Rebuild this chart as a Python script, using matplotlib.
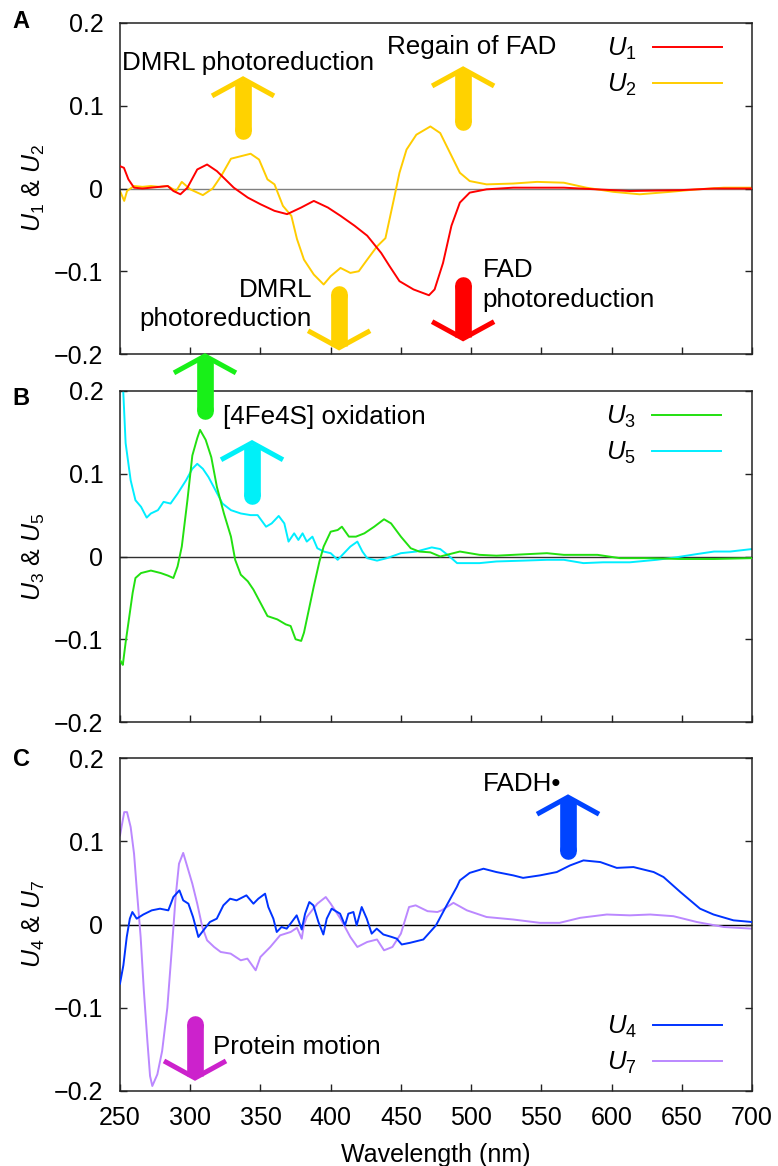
import matplotlib
matplotlib.use('Agg')
import matplotlib.pyplot as plt

plt.rcParams['font.family'] = ['Liberation Sans', 'DejaVu Sans']
plt.rcParams['mathtext.fontset'] = 'custom'
plt.rcParams['mathtext.rm'] = 'Liberation Sans'
plt.rcParams['mathtext.it'] = 'Liberation Sans:italic'
plt.rcParams['mathtext.bf'] = 'Liberation Sans:bold'

# ---------------- data ----------------
x_ticks = [250, 300, 350, 400, 450, 500, 550, 600, 650, 700]
y_ticks = [-0.2, -0.1, 0, 0.1, 0.2]
y_tick_labels = ['\u22120.2', '\u22120.1', '0', '0.1', '0.2']

wl_u1 = [250, 252.8, 256, 260, 266, 272, 278, 284, 288, 293, 298, 305, 312, 319, 325, 331, 341, 350,
         360, 369, 379, 388, 398, 407, 417, 426, 436, 442, 449, 459, 470, 474, 480, 486, 492, 499,
         511, 530, 566, 589, 613, 649, 673, 700]
u1 = [0.027, 0.025, 0.011, 0.001, 0.000, 0.001, 0.002, 0.003, -0.003, -0.007, 0.001, 0.023, 0.029,
      0.021, 0.011, 0.001, -0.011, -0.019, -0.027, -0.031, -0.023, -0.015, -0.023, -0.033, -0.045,
      -0.057, -0.078, -0.094, -0.112, -0.122, -0.129, -0.122, -0.090, -0.045, -0.017, -0.005,
      -0.001, 0.001, 0.001, -0.001, -0.003, -0.002, 0.000, 0.000]

wl_u2 = [250, 253, 255, 260, 266, 272, 278, 284, 290, 294, 300, 309, 316, 322, 329, 336, 343, 349,
         355, 360, 366, 372, 376, 381, 388, 395, 400, 407, 414, 420, 426, 433, 439, 445, 449, 454,
         461, 471, 478, 485, 492, 499, 511, 530, 547, 566, 582, 601, 620, 642, 661, 680, 700]
u2 = [-0.003, -0.015, -0.003, 0.003, 0.002, 0.003, 0.002, 0.003, -0.003, 0.008, -0.001, -0.008,
      0.000, 0.015, 0.036, 0.039, 0.042, 0.035, 0.011, 0.005, -0.021, -0.033, -0.061, -0.086,
      -0.104, -0.116, -0.106, -0.096, -0.102, -0.100, -0.086, -0.070, -0.060, -0.013, 0.019,
      0.047, 0.065, 0.075, 0.067, 0.043, 0.019, 0.009, 0.005, 0.006, 0.008, 0.007, 0.001,
      -0.004, -0.007, -0.004, -0.001, 0.001, 0.001]

wl_u3 = [250, 251, 252, 254, 256, 259, 261, 265, 272, 279, 284, 288, 291, 294, 298, 301.5, 305, 307,
         311, 315, 319, 324, 329, 332, 336, 341, 345, 350, 355, 362, 368, 371.5, 375, 379, 381,
         385, 388, 392, 395, 400, 405, 408, 413, 418, 424, 431, 438, 443, 450, 457, 463, 471, 478,
         485, 492, 506, 518, 530, 542, 554, 566, 590, 606, 625, 649, 673, 700]
u3 = [-0.125, -0.128, -0.131, -0.104, -0.080, -0.044, -0.026, -0.020, -0.017, -0.020, -0.023,
      -0.026, -0.012, 0.012, 0.068, 0.122, 0.143, 0.153, 0.141, 0.120, 0.084, 0.052, 0.024,
      -0.004, -0.022, -0.030, -0.040, -0.056, -0.072, -0.076, -0.082, -0.084, -0.100, -0.102,
      -0.092, -0.060, -0.036, -0.006, 0.012, 0.030, 0.032, 0.036, 0.024, 0.024, 0.028, 0.036,
      0.045, 0.040, 0.024, 0.010, 0.006, 0.005, 0.000, 0.003, 0.006, 0.002, 0.001, 0.002, 0.003,
      0.004, 0.002, 0.002, -0.002, -0.002, -0.003, -0.003, -0.002]

wl_u5 = [250, 252.3, 254, 257.6, 261, 265, 269, 272, 277, 281, 286, 291, 297, 301.5, 305, 309, 313,
         318, 323, 329, 336, 343, 348, 354, 358, 363, 367, 370, 374, 377, 380, 383, 387, 390.5,
         395, 400, 405, 409.5, 414, 419, 422.6, 426, 433, 440, 450, 461, 472, 478, 484, 490, 506,
         518, 537, 554, 566, 580, 594, 613, 632, 646, 661, 673, 684.5, 700]
u5 = [0.25, 0.2, 0.137, 0.092, 0.068, 0.060, 0.047, 0.052, 0.056, 0.066, 0.064, 0.076, 0.092,
      0.106, 0.112, 0.106, 0.096, 0.080, 0.064, 0.056, 0.052, 0.050, 0.050, 0.036, 0.040, 0.049,
      0.040, 0.018, 0.028, 0.020, 0.028, 0.018, 0.024, 0.010, 0.006, 0.004, -0.004, 0.004, 0.012,
      0.018, 0.006, -0.002, -0.005, -0.002, 0.004, 0.006, 0.011, 0.009, 0.001, -0.008, -0.008,
      -0.006, -0.005, -0.004, -0.004, -0.008, -0.007, -0.007, -0.004, -0.001, 0.003, 0.006,
      0.006, 0.009]

wl_u4 = [250, 252.4, 254.8, 257, 258.8, 261.9, 266.6, 272.6, 278.5, 284.4, 288, 292.3, 295, 298.7,
         302, 305.8, 309.4, 314, 318.9, 323.6, 328.4, 333, 340, 345, 348.5, 353.3, 355.6, 359.2,
         361.6, 365, 368.7, 372.3, 375.8, 379.4, 381.8, 384.8, 387.7, 391.3, 394.8, 397.2, 400.7,
         406.7, 410.2, 412.6, 416.2, 418.5, 422.1, 425.7, 429.2, 432.8, 437.5, 443.5, 447, 450.6,
         456.5, 466, 475, 482.6, 489.8, 492, 499, 508.8, 518, 530, 537, 549, 561, 570.5, 580, 592,
         603.7, 615.6, 630, 637, 649, 663, 672.6, 686.8, 700]
u4 = [-0.071, -0.049, -0.015, 0.007, 0.015, 0.007, 0.012, 0.017, 0.019, 0.017, 0.033, 0.041,
      0.029, 0.025, 0.009, -0.015, -0.007, 0.003, 0.007, 0.023, 0.031, 0.029, 0.035, 0.025,
      0.031, 0.037, 0.021, 0.007, -0.009, -0.003, -0.005, 0.003, 0.011, -0.006, 0.013, 0.027,
      0.023, 0.003, -0.012, 0.007, 0.019, 0.013, -0.001, 0.013, 0.015, -0.001, 0.021, 0.007,
      -0.011, -0.005, -0.012, -0.015, -0.017, -0.024, -0.022, -0.018, -0.001, 0.023, 0.045,
      0.053, 0.062, 0.067, 0.063, 0.059, 0.056, 0.059, 0.063, 0.071, 0.077, 0.075, 0.068, 0.069,
      0.063, 0.057, 0.039, 0.019, 0.012, 0.005, 0.003]

wl_u7 = [250, 253, 255, 257.6, 260, 262, 264.7, 267, 269.5, 271.4, 273, 276.6, 280, 283.7, 287,
         289.6, 292, 295, 298, 301.5, 305, 308.6, 312, 317, 321.7, 328.8, 336, 340.7, 346.6, 350,
         357, 364, 371.5, 376, 379.4, 381, 383, 390.5, 396.5, 400, 407, 414, 419, 426, 433, 438,
         444, 450, 455.8, 460.5, 469, 476, 479, 487.4, 497, 511, 530, 549, 563, 577.6, 596.6, 613,
         627.5, 644, 660.7, 680, 700]
u7 = [0.107, 0.135, 0.135, 0.117, 0.085, 0.041, -0.015, -0.080, -0.140, -0.182, -0.194, -0.180,
      -0.152, -0.100, -0.027, 0.033, 0.073, 0.086, 0.069, 0.049, 0.025, -0.003, -0.019, -0.027,
      -0.033, -0.035, -0.043, -0.041, -0.055, -0.039, -0.027, -0.013, -0.009, -0.004, -0.017,
      0.000, 0.009, 0.025, 0.033, 0.025, 0.007, -0.015, -0.027, -0.021, -0.018, -0.031, -0.027,
      -0.011, 0.021, 0.023, 0.016, 0.015, 0.017, 0.026, 0.017, 0.009, 0.006, 0.002, 0.002, 0.008,
      0.012, 0.011, 0.012, 0.010, 0.003, -0.003, -0.005]

# ---------------- figure ----------------
W, H = 778, 1166
fig = plt.figure(figsize=(W / 100, H / 100), dpi=100)

L, R = 120, 752
panels = [(23, 354), (391, 722), (758, 1091)]
axes = []
for top, bot in panels:
    ax = fig.add_axes([L / W, 1 - bot / H, (R - L) / W, (bot - top) / H])
    axes.append(ax)

FS = 18        # tick / axis label font size
AFS = 18.7     # annotation font size
PXX = 450 / (R - L)   # nm per pixel
PXY = 0.1 / 83        # value per pixel


def style(ax, zero_color, show_x):
    ax.set_xlim(250, 700)
    ax.set_ylim(-0.2, 0.2)
    ax.set_xticks(x_ticks)
    ax.set_yticks(y_ticks)
    ax.set_yticklabels(y_tick_labels)
    ax.tick_params(direction='in', length=5, width=1.0, left=True, right=True, top=False,
                   bottom=True, labelsize=FS, pad=12, colors='#222222', labelcolor='black')
    ax.tick_params(axis='x', pad=11)
    if not show_x:
        ax.tick_params(axis='x', labelbottom=False)
    for s in ax.spines.values():
        s.set_linewidth(1.1)
        s.set_color('#222222')
    ax.axhline(0, color=zero_color, lw=1.0, zorder=1)


def arrow(ax, x, tip, tail, color, up=True):
    s = 1 if up else -1
    v = tip - s * 3 * PXY
    ax.plot([x, x], [tail, tip - s * 5 * PXY], color=color, lw=12, solid_capstyle='butt',
            clip_on=False, zorder=6)
    ax.plot([x, x], [tail, tail + s * 1 * PXY], color=color, lw=12, solid_capstyle='round',
            clip_on=False, zorder=6)
    ax.plot([x - 31 * PXX, x, x + 31 * PXX], [v - s * 17 * PXY, v, v - s * 17 * PXY],
            color=color, lw=3.6, solid_joinstyle='miter', solid_capstyle='butt',
            clip_on=False, zorder=6)


def legend(ax, loc, anchor):
    ax.legend(loc=loc, bbox_to_anchor=anchor, frameon=False, markerfirst=False,
              fontsize=18.5, handlelength=2.7, handletextpad=0.62, labelspacing=0.38,
              borderpad=0, borderaxespad=0)


# Panel A
axA = axes[0]
style(axA, '#808080', False)
axA.plot(wl_u1, u1, color='#FF0000', lw=1.4, label='$U_1$', zorder=3)
axA.plot(wl_u2, u2, color='#FFCC00', lw=1.4, label='$U_2$', zorder=2)
legend(axA, 'center right', (0.9525, 0.866))
axA.set_ylabel('$U_1$ & $U_2$', fontsize=FS)
axA.text(251.4, 0.1434, 'DMRL photoreduction', fontsize=AFS, ha='left', va='baseline')
axA.text(440.2, 0.1627, 'Regain of FAD', fontsize=AFS, ha='left', va='baseline')
axA.text(386.8, -0.1313, 'DMRL', fontsize=AFS, ha='right', va='baseline')
axA.text(386.8, -0.1663, 'photoreduction', fontsize=AFS, ha='right', va='baseline')
axA.text(508.3, -0.1072, 'FAD', fontsize=AFS, ha='left', va='baseline')
axA.text(508.3, -0.1434, 'photoreduction', fontsize=AFS, ha='left', va='baseline')
arrow(axA, 337.6, 0.136, 0.069, '#FFD200', up=True)
arrow(axA, 494.3, 0.148, 0.080, '#FFD200', up=True)
arrow(axA, 406.0, -0.196, -0.128, '#FFD200', up=False)
arrow(axA, 494.3, -0.185, -0.117, '#FF0000', up=False)

# Panel B
axB = axes[1]
style(axB, '#303030', False)
axB.plot(wl_u3, u3, color='#22E010', lw=1.4, label='$U_3$', zorder=3)
axB.plot(wl_u5, u5, color='#00EEFF', lw=1.4, label='$U_5$', zorder=2)
legend(axB, 'center right', (0.951, 0.867))
axB.set_ylabel('$U_3$ & $U_5$', fontsize=FS)
axB.text(323.4, 0.160, '[4Fe4S] oxidation', fontsize=AFS, ha='left', va='baseline')
arrow(axB, 310.5, 0.246, 0.176, '#18F018', up=True)
arrow(axB, 344.0, 0.141, 0.073, '#00F0F8', up=True)

# Panel C
axC = axes[2]
style(axC, 'black', True)
axC.plot(wl_u4, u4, color='#0033FF', lw=1.4, label='$U_4$', zorder=3)
axC.plot(wl_u7, u7, color='#BB88FF', lw=1.4, label='$U_7$', zorder=2)
legend(axC, 'center right', (0.9525, 0.138))
axC.set_ylabel('$U_4$ & $U_7$', fontsize=FS)
axC.set_xlabel('Wavelength (nm)', fontsize=FS)
axC.xaxis.set_label_coords(0.5, -0.155)
axC.text(316.2, -0.1554, 'Protein motion', fontsize=AFS, ha='left', va='baseline')
axC.text(508.5, 0.160, 'FADH\u2022', fontsize=AFS, ha='left', va='baseline')
arrow(axC, 303.4, -0.188, -0.119, '#CC22CC', up=False)
arrow(axC, 569.0, 0.1566, 0.0886, '#0044FF', up=True)

for ax in axes:
    ax.yaxis.set_label_coords(-0.1155, 0.5)

for lab, yc in [('A', 22), ('B', 398), ('C', 760)]:
    fig.text(21 / W, 1 - yc / H, lab, fontsize=17, fontweight='bold', ha='center', va='center')

fig.savefig('out.png', dpi=100)
